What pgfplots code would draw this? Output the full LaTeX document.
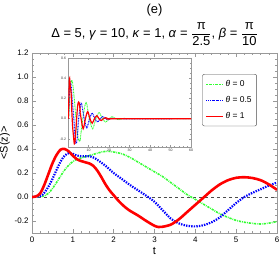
\documentclass[border=0pt]{standalone}
\usepackage{amsmath}
\usepackage{fontspec}
\setmainfont{Liberation Sans}
\usepackage{pgfplots}
\usepackage{pgfplotstable}
\pgfplotsset{compat=1.18}

\pgfplotstableread{
t v
0 0
0.1 0.005
0.2 0.03
0.3 0.10
0.4 0.19
0.5 0.28
0.6 0.35
0.7 0.395
0.8 0.40
0.9 0.38
1.0 0.345
1.1 0.315
1.2 0.30
1.3 0.29
1.4 0.28
1.5 0.26
1.6 0.22
1.7 0.165
1.8 0.105
1.9 0.055
2.0 0.015
2.1 -0.025
2.2 -0.06
2.3 -0.09
2.4 -0.115
2.6 -0.155
2.8 -0.20
3.0 -0.24
3.1 -0.25
3.2 -0.248
3.4 -0.23
3.6 -0.185
3.8 -0.125
4.0 -0.065
4.2 -0.005
4.4 0.055
4.6 0.105
4.8 0.14
5.0 0.16
5.2 0.165
5.4 0.158
5.6 0.14
5.8 0.105
6.0 0.06
}\redmain

\pgfplotstableread{
t v
0 0
0.2 0.008
0.3 0.035
0.4 0.085
0.5 0.15
0.6 0.225
0.7 0.295
0.8 0.345
0.9 0.365
1.0 0.36
1.1 0.345
1.2 0.34
1.3 0.34
1.4 0.34
1.5 0.33
1.6 0.31
1.8 0.26
2.0 0.20
2.2 0.15
2.4 0.10
2.6 0.055
2.8 0.01
3.0 -0.04
3.2 -0.11
3.4 -0.18
3.6 -0.22
3.8 -0.24
4.0 -0.245
4.2 -0.235
4.4 -0.21
4.6 -0.17
4.8 -0.11
5.0 -0.05
5.2 0.0
5.4 0.035
5.6 0.065
5.8 0.095
6.0 0.12
}\bluemain

\pgfplotstableread{
t v
0 0
0.3 0.008
0.4 0.03
0.5 0.07
0.6 0.12
0.7 0.175
0.8 0.225
0.9 0.265
1.0 0.295
1.1 0.315
1.2 0.325
1.3 0.335
1.4 0.345
1.5 0.355
1.6 0.365
1.7 0.375
1.8 0.38
1.9 0.38
2.0 0.375
2.2 0.36
2.4 0.33
2.6 0.29
2.8 0.25
3.0 0.21
3.2 0.17
3.4 0.12
3.6 0.07
3.8 0.02
4.0 -0.02
4.2 -0.06
4.4 -0.10
4.6 -0.14
4.8 -0.17
5.0 -0.195
5.2 -0.21
5.4 -0.22
5.6 -0.225
5.8 -0.218
6.0 -0.205
}\greenmain

\pgfplotstableread{
t v
6.0 0.06
6.4 0
7.4 -0.10
8.5 0
9.6 0.07
10.7 0
11.8 -0.045
12.9 0
14 0.03
15.1 0
16.2 -0.018
17.3 0
18.4 0.01
19.5 0
20.6 -0.005
22 0
60 0
}\redtail

\pgfplotstableread{
t v
6.0 0.12
6.6 0.15
7.9 0
9.2 -0.09
10.5 0
11.8 0.055
13.1 0
14.4 -0.033
15.7 0
17 0.02
18.3 0
19.6 -0.01
20.9 0
22.2 0.005
24 0
60 0
}\bluetail

\pgfplotstableread{
t v
6.0 -0.205
7.2 0
8.8 0.16
10.4 0
12 -0.10
13.6 0
15.2 0.06
16.8 0
18.4 -0.035
20 0
21.6 0.02
23.2 0
24.8 -0.01
26.4 0
28 0.005
30 0
60 0
}\greentail

\definecolor{mgreen}{rgb}{0.2,1,0.2}
\definecolor{frame}{gray}{0.6}

\tikzset{
  redline/.style={red, line width=2.6pt},
  blueline/.style={blue, line width=2.2pt, dash pattern=on 1.4pt off 1.2pt},
  greenline/.style={mgreen, line width=1.6pt, dash pattern=on 2.2pt off 1pt on 0.8pt off 1pt},
}

\begin{document}
\begin{tikzpicture}
\begin{axis}[
  name=main,
  at={(0,0)}, anchor=south west,
  scale only axis, width=245bp, height=180bp,
  xmin=0, xmax=6, ymin=-0.3, ymax=1.2,
  xtick={0,1,...,6}, ytick={-0.2,0,0.2,0.4,0.6,0.8,1.0,1.2},
  minor x tick num=4, minor y tick num=3,
  yticklabel style={/pgf/number format/.cd, fixed, fixed zerofill, precision=1},
  /pgf/number format/assume math mode=true,
  tick label style={font=\fontsize{8}{9}\selectfont, black},
  tick align=inside,
  major tick length=4pt, minor tick length=2pt,
  axis line style={frame},
  every tick/.style={frame},
  xlabel={t}, ylabel={<S(z)>},
  label style={font=\fontsize{11}{12}\selectfont},
  xlabel style={yshift=2pt},
  ylabel style={yshift=-2pt},
  legend cell align=left,
  legend style={at={(0.695,0.883)}, anchor=north west, draw=black!70, rounded corners=2pt,
    font=\fontsize{8.5}{10}\selectfont, row sep=4.5pt, inner xsep=3pt, inner ysep=4pt},
]
\addlegendimage{mgreen, line width=1pt, dash pattern=on 2pt off 0.8pt on 0.7pt off 0.8pt}
\addlegendentry{\textit{θ} = 0}
\addlegendimage{blue, line width=1pt, dash pattern=on 1pt off 1pt}
\addlegendentry{\textit{θ} = 0.5}
\addlegendimage{red, line width=1.2pt}
\addlegendentry{\textit{θ} = 1}
\addplot[black!70, dashed, line width=0.4pt, forget plot] coordinates {(0,0) (6,0)};
\addplot[greenline, smooth, forget plot] table[x=t,y=v] {\greenmain};
\addplot[blueline, smooth, forget plot] table[x=t,y=v] {\bluemain};
\addplot[redline, smooth, forget plot] table[x=t,y=v] {\redmain};
\end{axis}

\begin{axis}[
  at={(36bp,86bp)}, anchor=south west,
  scale only axis, width=123bp, height=89bp,
  xmin=0, xmax=60, ymin=-0.28, ymax=0.6,
  xtick={10,20,...,60}, ytick={-0.2,0,0.2,0.4,0.6},
  xticklabel style={yshift=1.5pt},
  yticklabel style={xshift=1.5pt, /pgf/number format/.cd, fixed, fixed zerofill, precision=1},
  /pgf/number format/assume math mode=true,
  tick label style={font=\fontsize{3.5}{4}\selectfont, black!80},
  minor x tick num=4, minor y tick num=3,
  tick align=inside,
  major tick length=2pt, minor tick length=1pt,
  axis line style={frame},
  every tick/.style={frame},
  axis background/.style={fill=white},
]
\addplot[mgreen, line width=0.9pt, dash pattern=on 1.5pt off 0.7pt on 0.5pt off 0.7pt, smooth] table[x=t,y=v] {\greenmain};
\addplot[mgreen, line width=0.9pt, dash pattern=on 1.5pt off 0.7pt on 0.5pt off 0.7pt, smooth] table[x=t,y=v] {\greentail};
\addplot[blue, line width=1.1pt, dash pattern=on 0.8pt off 0.8pt, smooth] table[x=t,y=v] {\bluemain};
\addplot[blue, line width=1.1pt, dash pattern=on 0.8pt off 0.8pt, smooth] table[x=t,y=v] {\bluetail};
\addplot[red, line width=1.2pt, smooth] table[x=t,y=v] {\redmain};
\addplot[red, line width=1.2pt, smooth] table[x=t,y=v] {\redtail};
\end{axis}

\node[font=\fontsize{13}{15}\selectfont] at ([yshift=43bp]main.north) {(e)};
\node[font=\fontsize{13}{15}\selectfont] at ([xshift=0bp,yshift=19bp]main.north)
  {Δ = 5, \textit{γ} = 10, \textit{κ} = 1, \textit{α} = $\dfrac{\mbox{π}}{\mbox{2.5}}$, \textit{β} = $\dfrac{\mbox{π}}{\mbox{10}}$};

\pgfresetboundingbox
\path[use as bounding box] ([shift={(-32bp,-29bp)}]main.south west) rectangle ([shift={(2bp,53bp)}]main.north east);
\end{tikzpicture}
\end{document}
